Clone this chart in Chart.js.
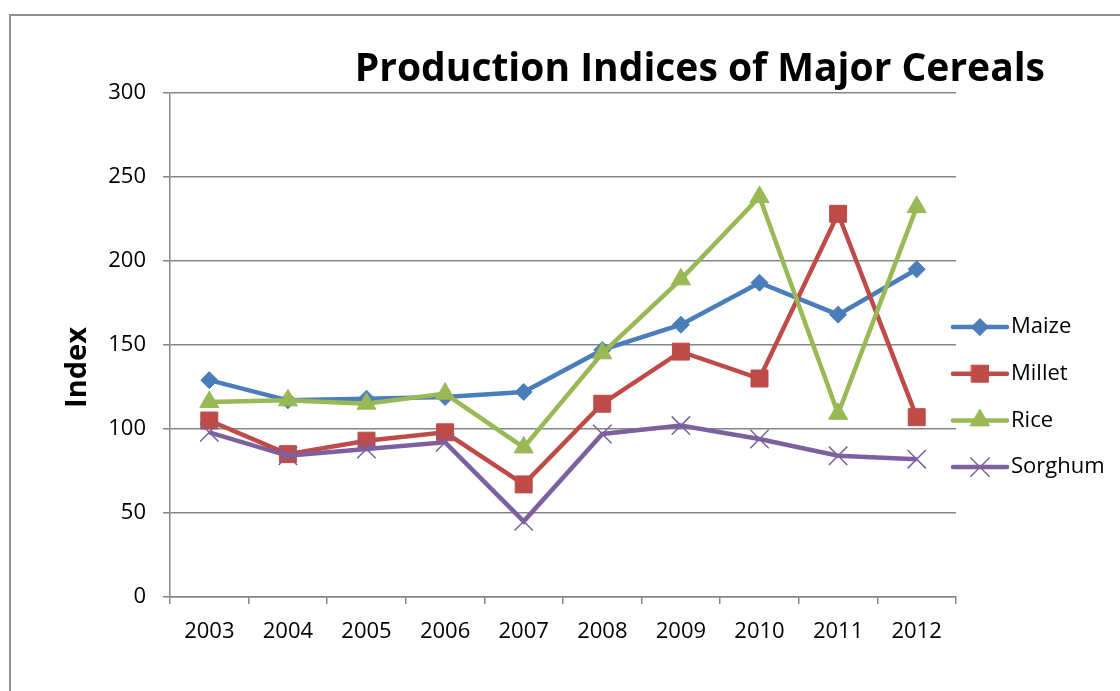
<!DOCTYPE html>
<html>
<head>
<meta charset="utf-8">
<script src="https://cdn.jsdelivr.net/npm/chart.js"></script>
<style>
  body { margin: 0; background: #fff; overflow: hidden; }
  #frame { position: absolute; left: 9px; top: 14px; width: 1300px; height: 900px; border: 2px solid #8f8f8f; }
  #myChart { position: absolute; left: 0; top: 0; }
</style>
</head>
<body>
<div id="frame"></div>
<canvas id="myChart" width="1120" height="691"></canvas>
<script>
// data
const years = ['2003', '2004', '2005', '2006', '2007', '2008', '2009', '2010', '2011', '2012']
const maize = [129, 117, 118, 119, 122, 147, 162, 187, 168, 195]
const millet = [105, 85, 93, 98, 67, 115, 146, 130, 228, 107]
const rice = [116, 117, 115, 121, 89, 145, 189, 238, 109, 232]
const sorghum = [98, 84, 88, 92, 45, 97, 102, 94, 84, 82]

const FONT = "'Open Sans', sans-serif"
const GRID = '#868686'

// legend drawn as line + marker, Excel style
const lineLegend = {
    id: 'lineLegend',
    afterDraw(chart, args, opts) {
        const ctx = chart.ctx
        const x0 = chart.chartArea.right - 3
        chart.data.datasets.forEach((ds, i) => {
            const y = opts.top + i * opts.step
            ctx.save()
            ctx.strokeStyle = ds.borderColor
            ctx.lineWidth = ds.borderWidth
            ctx.lineCap = 'round'
            ctx.beginPath()
            ctx.moveTo(x0, y)
            ctx.lineTo(x0 + 54, y)
            ctx.stroke()
            ctx.fillStyle = ds.pointBackgroundColor
            ctx.strokeStyle = ds.pointBorderColor
            ctx.lineWidth = ds.pointBorderWidth
            Chart.helpers.drawPoint(ctx, {
                pointStyle: ds.pointStyle,
                radius: ds.pointRadius,
                rotation: 0,
                borderWidth: ds.pointBorderWidth
            }, x0 + 27, y)
            ctx.fillStyle = '#000'
            ctx.font = `22px ${FONT}`
            ctx.textBaseline = 'middle'
            ctx.textAlign = 'left'
            ctx.fillText(ds.label, x0 + 58, y)
            ctx.restore()
        })
    }
}

function series(label, values, color, style, radius, pbw) {
    return {
        label: label,
        data: values,
        borderColor: color,
        backgroundColor: color,
        pointBackgroundColor: style === 'crossRot' ? 'transparent' : color,
        pointBorderColor: color,
        pointStyle: style,
        pointRadius: radius,
        pointHoverRadius: radius,
        pointBorderWidth: pbw,
        borderWidth: 4.5,
        tension: 0
    }
}

const data = {
    labels: years,
    datasets: [
        series('Maize', maize, '#4a7ebb', 'rectRot', 8.5, 1),
        series('Millet', millet, '#be4b48', 'rect', 12, 1),
        series('Rice', rice, '#98b954', 'triangle', 11, 1),
        series('Sorghum', sorghum, '#7d60a0', 'crossRot', 13, 1.5)
    ]
}
// later series sit on top, like in Excel
data.datasets.forEach((ds, i) => { ds.order = data.datasets.length - i })

const config = {
    type: 'line',
    data: data,
    plugins: [lineLegend],
    options: {
        responsive: false,
        animation: false,
        layout: {
            padding: { left: 0, right: 75, top: 46, bottom: 0 }
        },
        plugins: {
            legend: { display: false },
            tooltip: { enabled: false },
            title: {
                display: true,
                text: 'Production Indices of Major Cereals',
                align: 'end',
                color: '#000',
                font: { family: FONT, size: 39, weight: 'bold' },
                padding: { top: 0, bottom: 0 }
            },
            lineLegend: { top: 327, step: 46.7 }
        },
        scales: {
            x: {
                offset: true,
                grid: { offset: true, drawOnChartArea: false, drawTicks: true, tickLength: 7, color: GRID, lineWidth: 1.5 },
                border: { display: true, color: GRID, width: 1.5 },
                ticks: { color: '#000', padding: 15, maxRotation: 0, font: { family: FONT, size: 22 } },
                afterFit: scale => { scale.height = 94 }
            },
            y: {
                min: 0,
                max: 300,
                ticks: { stepSize: 50, color: '#000', padding: 17, font: { family: FONT, size: 22 } },
                grid: { color: GRID, lineWidth: 1.5, tickLength: 7 },
                border: { display: true, color: GRID, width: 1.5 },
                title: {
                    display: true,
                    // trailing spaces push the word down a little, as Excel places it
                    text: 'Index      ',
                    color: '#000',
                    font: { family: FONT, size: 29, weight: 'bold' },
                    padding: { top: 60, bottom: 0 }
                },
                afterFit: scale => { scale.width = 170 }
            },
            // empty axis that keeps room for the legend on the right
            room: {
                position: 'right',
                display: true,
                grid: { display: false },
                border: { display: false },
                ticks: { display: false },
                afterFit: scale => { scale.width = 89 }
            }
        }
    }
}

new Chart(document.getElementById('myChart'), config)
</script>
</body>
</html>
